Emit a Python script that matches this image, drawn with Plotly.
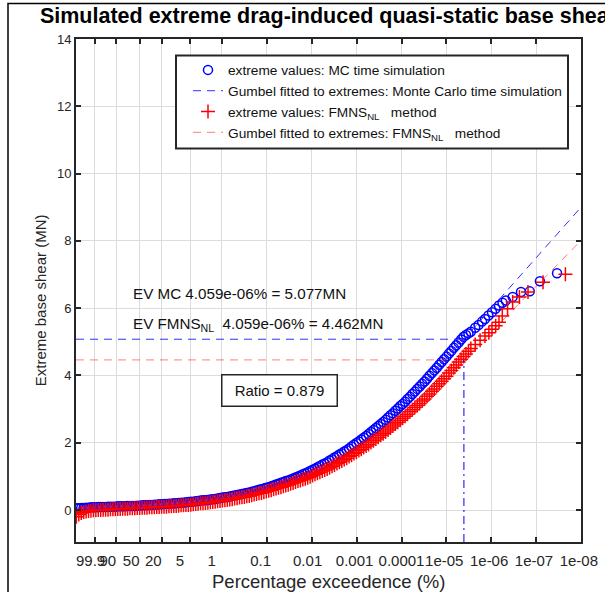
import numpy as np
import plotly.graph_objects as go

# ---------------- data ----------------
# x values are Gumbel reduced variates  -ln(-ln(1 - p)),  p = exceedance probability
tick_pct = [99.9, 90, 50, 20, 5, 1, 0.1, 0.01, 0.001, 0.0001, 1e-05, 1e-06, 1e-07, 1e-08]
tick_text = ["99.9", "90", "50", "20", "5", "1", "0.1", "0.01", "0.001", "0.0001",
             "1e-05", "1e-06", "1e-07", "1e-08"]

band_x = [-2.875, -2.75, -2.625, -2.5, -2.375, -2.25, -2.125, -2.0,
          -1.875, -1.75, -1.625, -1.5, -1.375, -1.25, -1.125, -1.0,
          -0.875, -0.75, -0.625, -0.5, -0.375, -0.25, -0.125, 0.0,
          0.125, 0.25, 0.375, 0.5, 0.625, 0.75, 0.875, 1.0,
          1.125, 1.25, 1.375, 1.5, 1.625, 1.75, 1.875, 2.0,
          2.125, 2.25, 2.375, 2.5, 2.625, 2.75, 2.875, 3.0,
          3.125, 3.25, 3.375, 3.5, 3.625, 3.75, 3.875, 4.0,
          4.125, 4.25, 4.375, 4.5, 4.625, 4.75, 4.875, 5.0,
          5.125, 5.25, 5.375, 5.5, 5.625, 5.75, 5.875, 6.0,
          6.125, 6.25, 6.375, 6.5, 6.625, 6.75, 6.875, 7.0,
          7.125, 7.25, 7.375, 7.5, 7.625, 7.75, 7.875, 8.0,
          8.125, 8.25, 8.375, 8.5, 8.625, 8.75, 8.875, 9.0,
          9.125, 9.25, 9.375, 9.5, 9.625, 9.75, 9.875, 10.0,
          10.125, 10.25, 10.375, 10.5, 10.625, 10.75, 10.875, 11.0,
          11.125, 11.25, 11.375, 11.5, 11.625, 11.75, 11.875, 12.0,
          12.125, 12.25, 12.375, 12.5, 12.625, 12.75, 12.875, 13.0,
          13.125, 13.25, 13.375, 13.5, 13.625, 13.75, 13.875, 14.0,
          14.125, 14.25, 14.375, 14.5, 14.625, 14.75, 14.875, 15.0,
          15.125, 15.25, 15.375, 15.5, 15.625, 15.75, 15.875, 16.0,
          16.125, 16.25, 16.375, 16.5, 16.625, 16.75, 16.875, 17.0,
          17.125, 17.25, 17.375]

mc_band_y = [0.05, 0.05, 0.06, 0.06, 0.07, 0.07, 0.08, 0.08,
             0.08, 0.09, 0.09, 0.09, 0.09, 0.10, 0.10, 0.10,
             0.10, 0.11, 0.11, 0.11, 0.11, 0.12, 0.12, 0.12,
             0.12, 0.13, 0.13, 0.14, 0.14, 0.14, 0.15, 0.15,
             0.16, 0.16, 0.17, 0.17, 0.18, 0.18, 0.19, 0.19,
             0.20, 0.20, 0.21, 0.22, 0.22, 0.23, 0.24, 0.25,
             0.25, 0.26, 0.27, 0.28, 0.29, 0.29, 0.30, 0.31,
             0.32, 0.33, 0.34, 0.36, 0.37, 0.38, 0.39, 0.40,
             0.42, 0.43, 0.45, 0.46, 0.48, 0.49, 0.51, 0.52,
             0.54, 0.56, 0.58, 0.60, 0.62, 0.64, 0.66, 0.68,
             0.71, 0.73, 0.76, 0.78, 0.81, 0.83, 0.86, 0.88,
             0.91, 0.94, 0.97, 1.00, 1.03, 1.06, 1.09, 1.12,
             1.16, 1.20, 1.23, 1.27, 1.31, 1.35, 1.38, 1.42,
             1.47, 1.51, 1.56, 1.60, 1.65, 1.69, 1.74, 1.78,
             1.83, 1.89, 1.94, 1.99, 2.04, 2.10, 2.15, 2.20,
             2.26, 2.32, 2.38, 2.44, 2.50, 2.56, 2.62, 2.68,
             2.75, 2.82, 2.88, 2.95, 3.02, 3.09, 3.15, 3.22,
             3.30, 3.37, 3.45, 3.52, 3.60, 3.67, 3.75, 3.82,
             3.90, 3.99, 4.07, 4.15, 4.23, 4.32, 4.40, 4.48,
             4.56, 4.65, 4.73, 4.82, 4.90, 4.98, 5.07, 5.15,
             5.20, 5.25, 5.30]

fm_band_y = [-0.20, -0.13, -0.09, -0.06, -0.04, -0.03, -0.02, -0.01,
             -0.01, 0.00, 0.00, 0.01, 0.01, 0.01, 0.02, 0.02,
             0.02, 0.03, 0.03, 0.04, 0.04, 0.04, 0.05, 0.05,
             0.05, 0.06, 0.06, 0.07, 0.07, 0.07, 0.08, 0.08,
             0.08, 0.09, 0.09, 0.10, 0.10, 0.10, 0.11, 0.11,
             0.12, 0.12, 0.13, 0.14, 0.14, 0.15, 0.15, 0.16,
             0.17, 0.18, 0.19, 0.20, 0.20, 0.21, 0.22, 0.23,
             0.24, 0.25, 0.26, 0.27, 0.28, 0.29, 0.30, 0.31,
             0.32, 0.34, 0.35, 0.37, 0.38, 0.39, 0.41, 0.42,
             0.44, 0.46, 0.48, 0.50, 0.51, 0.53, 0.55, 0.57,
             0.59, 0.62, 0.64, 0.66, 0.68, 0.71, 0.73, 0.75,
             0.78, 0.80, 0.83, 0.86, 0.88, 0.91, 0.93, 0.96,
             0.99, 1.03, 1.06, 1.09, 1.12, 1.16, 1.19, 1.22,
             1.26, 1.30, 1.34, 1.38, 1.42, 1.46, 1.50, 1.54,
             1.59, 1.63, 1.68, 1.72, 1.77, 1.81, 1.86, 1.90,
             1.95, 2.01, 2.06, 2.11, 2.16, 2.22, 2.27, 2.32,
             2.38, 2.44, 2.50, 2.56, 2.61, 2.67, 2.73, 2.79,
             2.85, 2.92, 2.98, 3.05, 3.11, 3.17, 3.24, 3.30,
             3.38, 3.45, 3.53, 3.60, 3.68, 3.75, 3.83, 3.90,
             3.98, 4.07, 4.15, 4.23, 4.31, 4.40, 4.48, 4.56,
             4.64, 4.72, 4.80]

mc_tail_x = [17.6, 17.77, 17.95, 18.10, 18.28, 18.46, 18.64, 18.82, 19.0, 19.17, 19.52,
             19.95, 20.40, 20.92, 21.80]
mc_tail_y = [5.42, 5.50, 5.60, 5.68, 5.78, 5.88, 5.98, 6.08, 6.16, 6.23, 6.33,
             6.48, 6.50, 6.80, 7.04]

fm_tail_x = [17.6, 17.85, 18.10, 18.30, 18.46, 18.65, 18.82, 18.99, 19.26, 19.52, 19.87,
             20.31, 21.08, 22.23]
fm_tail_y = [4.92, 5.05, 5.17, 5.27, 5.37, 5.48, 5.58, 5.77, 5.98, 6.18, 6.33,
             6.48, 6.77, 7.01]

# Gumbel fitted lines (end points)
fit_x = [15.0, 23.03]
mc_fit_y = [3.76, 9.00]
fm_fit_y = [3.27, 8.01]

ev_pct = 4.059e-06
ev_mc = 5.077
ev_fm = 4.462
ratio = 0.879

x_min, x_max = -2.894, 23.03
y_min, y_max = -0.95, 14


def gumbel(pct):
    q = np.asarray(pct, dtype=float) / 100.0
    return -np.log(-np.log1p(-q))


ev_x = float(gumbel(ev_pct))
tickvals = gumbel(tick_pct)

FONT = "Liberation Sans, Arial, Helvetica, sans-serif"
AX = "#262626"
GRID = "#dcdcdc"
TICK_FS = 15

L, R, T, B = 76, 24, 38.5, 50
W, H = 605, 592
pw, ph = W - L - R, H - T - B

# the original tick labels are padded with trailing blanks to 6 characters,
# so their visible text sits a little left of each tick
px_per_unit = pw / (x_max - x_min)
label_pos = [float(v) - (6 - len(t)) * 0.278 * TICK_FS / 2 / px_per_unit
             for v, t in zip(tickvals, tick_text)]

fig = go.Figure()

fig.add_trace(go.Scatter(
    x=band_x + mc_tail_x, y=mc_band_y + mc_tail_y, mode="markers",
    name="extreme values: MC time simulation",
    marker=dict(symbol="circle-open", size=9, color="#0000ff", line=dict(width=1.5)),
))
fig.add_trace(go.Scatter(
    x=fit_x, y=mc_fit_y, mode="lines",
    name="Gumbel fitted to extremes: Monte Carlo time simulation",
    line=dict(color="#3333ff", width=1, dash="8px,6px"),
))
fig.add_trace(go.Scatter(
    x=band_x + fm_tail_x, y=fm_band_y + fm_tail_y, mode="markers",
    name="extreme values: FMNS<sub>NL</sub>\u00a0\u00a0\u00a0method",
    marker=dict(symbol="cross-thin-open", size=10, color="#ff0000", line=dict(width=1.5, color="#ff0000")),
))
fig.add_trace(go.Scatter(
    x=fit_x, y=fm_fit_y, mode="lines",
    name="Gumbel fitted to extremes: FMNS<sub>NL</sub>\u00a0\u00a0\u00a0method",
    line=dict(color="rgba(255,0,0,0.5)", width=1, dash="8px,6px"),
))

# reference lines at the design exceedance level
fig.add_trace(go.Scatter(x=[x_min, ev_x], y=[ev_mc, ev_mc], mode="lines", showlegend=False,
                         line=dict(color="#3333ff", width=1, dash="8px,6px")))
fig.add_trace(go.Scatter(x=[x_min, ev_x], y=[ev_fm, ev_fm], mode="lines", showlegend=False,
                         line=dict(color="rgba(255,0,0,0.5)", width=1, dash="8px,6px")))
fig.add_trace(go.Scatter(x=[ev_x, ev_x], y=[y_min, ev_fm], mode="lines", showlegend=False,
                         xaxis="x2", line=dict(color="#0000ff", width=1, dash="8px,4px,2px,4px")))

axis_common = dict(
    showline=True, linecolor=AX, linewidth=2, mirror="ticks",
    ticks="inside", ticklen=5, tickwidth=2, tickcolor=AX,
    showgrid=True, gridcolor=GRID, gridwidth=1.3, zeroline=False,
)

fig.update_layout(
    xaxis=dict(range=[x_min, x_max], tickmode="array", tickvals=tickvals,
               ticktext=tick_text, showticklabels=False, **axis_common),
    xaxis2=dict(range=[x_min, x_max], overlaying="x", anchor="y", side="bottom",
                tickmode="array", tickvals=label_pos, ticktext=tick_text, tickangle=0,
                ticks="", showline=False, showgrid=False, zeroline=False,
                ticklabelstandoff=8, tickfont=dict(family=FONT, size=TICK_FS, color=AX)),
    yaxis=dict(range=[y_min, y_max], tickmode="linear", tick0=0, dtick=2,
               tickfont=dict(family=FONT, size=13, color=AX), **axis_common),
)


def px_x(p):
    return (p - L) / pw


def px_y(p):
    return (H - B - p) / ph


shapes = [
    # outer figure frame
    dict(type="rect", xref="paper", yref="paper", x0=px_x(8), x1=px_x(640), y0=px_y(640), y1=px_y(3),
         line=dict(color="#000000", width=1.5), fillcolor="rgba(0,0,0,0)", layer="above"),
    # legend box
    dict(type="rect", xref="paper", yref="paper", x0=px_x(176), x1=px_x(568), y0=px_y(148), y1=px_y(55),
         line=dict(color=AX, width=2), fillcolor="white", layer="above"),
]

annotations = [
    # axis titles
    dict(xref="paper", yref="paper", x=px_x(328.5), y=px_y(581.5), xanchor="center", yanchor="middle",
         text="Percentage exceedence (%)", showarrow=False,
         font=dict(family=FONT, size=18.5, color=AX)),
    dict(xref="paper", yref="paper", x=px_x(40), y=px_y(300), xanchor="center", yanchor="middle",
         text="Extreme base shear (MN)", showarrow=False, textangle=-90,
         font=dict(family=FONT, size=15, color=AX)),
    # EV texts
    dict(xref="paper", yref="paper", x=px_x(131), y=px_y(293), xanchor="left", yanchor="middle",
         text="EV MC %.3e%% = %.3fMN" % (ev_pct, ev_mc), showarrow=False,
         font=dict(family=FONT, size=15.2, color="#111111")),
    dict(xref="paper", yref="paper", x=px_x(131), y=px_y(324), xanchor="left", yanchor="middle",
         text="EV FMNS<sub>NL</sub>\u00a0\u00a0%.3e%% = %.3fMN" % (ev_pct, ev_fm), showarrow=False,
         font=dict(family=FONT, size=15.2, color="#111111")),
    dict(xref="paper", yref="paper", x=px_x(279), y=px_y(390), xanchor="center", yanchor="middle",
         text="Ratio = %.3f" % ratio, showarrow=False, width=110, height=26, borderpad=2,
         bordercolor=AX, borderwidth=1.5, bgcolor="white",
         font=dict(family=FONT, size=15, color="#111111")),
]

fig.update_layout(
    width=W, height=H, margin=dict(l=L, r=R, t=T, b=B, autoexpand=False),
    paper_bgcolor="white", plot_bgcolor="white",
    font=dict(family=FONT, color=AX),
    title=dict(text="Simulated extreme drag-induced quasi-static base shear",
               x=px_x(328.5), xref="paper", xanchor="center",
               y=1 - 15.5 / H, yref="container", yanchor="middle",
               font=dict(family=FONT, size=21.5, color="#000000", weight="bold")),
    showlegend=True,
    legend=dict(x=px_x(188), y=px_y(54), xanchor="left", yanchor="top",
                bgcolor="rgba(0,0,0,0)", borderwidth=0,
                font=dict(family=FONT, size=13.7, color="#111111"), itemwidth=30),
    shapes=shapes, annotations=annotations,
)

fig.write_html("out.html")
